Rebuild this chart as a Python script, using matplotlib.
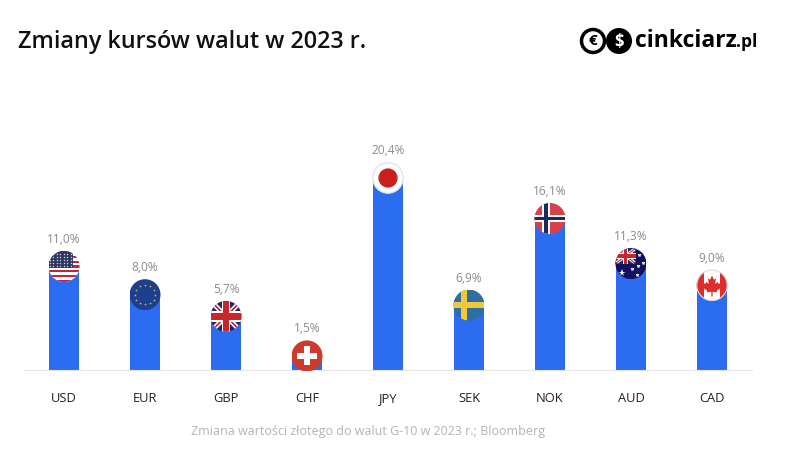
#!/usr/bin/env python3
import matplotlib
matplotlib.use('Agg')
import matplotlib.pyplot as plt
from matplotlib.patches import Circle, Polygon, Rectangle
from matplotlib.transforms import Affine2D, IdentityTransform

currencies = ['USD', 'EUR', 'GBP', 'CHF', 'JPY', 'SEK', 'NOK', 'AUD', 'CAD']
changes = [11.0, 8.0, 5.7, 1.5, 20.4, 6.9, 16.1, 11.3, 9.0]
labels = ['11,0%', '8,0%', '5,7%', '1,5%', '20,4%', '6,9%', '16,1%', '11,3%', '9,0%']

W, H = 800, 457
BLUE = '#2c6cf0'
RED = '#c8252c'
NAVY = '#1f2a63'

plt.rcParams['font.family'] = ['Open Sans', 'DejaVu Sans']

fig = plt.figure(figsize=(W / 100, H / 100), dpi=100)
ax = fig.add_axes([24 / W, 87 / H, 728 / W, 240 / H])
ax.set_xlim(-0.494, 8.494)
ax.set_ylim(0, 25.5)
ax.bar(range(len(changes)), changes, width=0.36, color=BLUE, zorder=2)

for side in ['top', 'left', 'right']:
    ax.spines[side].set_visible(False)
ax.spines['bottom'].set_color('#e4e4e4')
ax.set_yticks([])
ax.set_xticks(range(len(currencies)))
ax.set_xticklabels(currencies, fontsize=9.3, color='#222222')
ax.tick_params(axis='x', length=0, pad=16)

for i, (v, lab) in enumerate(zip(changes, labels)):
    ax.annotate(lab, (i, v), xytext=(0, 27), textcoords='offset pixels',
                ha='center', va='center', fontsize=8.6, color='#8c8c8c', zorder=5)


class Flag:
    # draws in a unit circle centred on the end of a bar
    def __init__(self, i, v, r=15.5):
        cx, cy = ax.transData.transform((i, v))
        self.t = Affine2D().scale(r).translate(cx, cy)
        self.clip = Circle((0, 0), 1, transform=self.t)

    def rect(self, x, y, w, h, color):
        p = Rectangle((x, y), w, h, color=color, lw=0, transform=self.t, zorder=4)
        fig.add_artist(p)
        p.set_clip_path(self.clip)

    def poly(self, pts, color):
        p = Polygon(pts, closed=True, color=color, lw=0, transform=self.t, zorder=4)
        fig.add_artist(p)
        p.set_clip_path(self.clip)

    def stars(self, xs, ys, color, size):
        line = plt.Line2D(xs, ys, ls='', marker='*', ms=size, mfc=color, mew=0,
                          transform=self.t, zorder=4)
        fig.add_artist(line)
        line.set_clip_path(self.clip)

    def ring(self):
        c = Circle((0, 0), 0.98, fc='none', ec='#dddddd', lw=0.8, transform=self.t, zorder=4)
        fig.add_artist(c)

    def union_jack(self, x0, x1, y0, y1):
        cx, cy = (x0 + x1) / 2, (y0 + y1) / 2
        w, h = x1 - x0, y1 - y0
        self.rect(x0, y0, w, h, NAVY)
        d = w * 0.11
        self.poly([(x0, y0 + d), (x0 + d, y0), (x1, y1 - d), (x1 - d, y1)], 'white')
        self.poly([(x0, y1 - d), (x0 + d, y1), (x1, y0 + d), (x1 - d, y0)], 'white')
        d = w * 0.04
        self.poly([(x0, y0 + d), (x0 + d, y0), (x1, y1 - d), (x1 - d, y1)], RED)
        self.poly([(x0, y1 - d), (x0 + d, y1), (x1, y0 + d), (x1 - d, y0)], RED)
        self.rect(cx - w * 0.14, y0, w * 0.28, h, 'white')
        self.rect(x0, cy - h * 0.17, w, h * 0.34, 'white')
        self.rect(cx - w * 0.09, y0, w * 0.18, h, RED)
        self.rect(x0, cy - h * 0.11, w, h * 0.22, RED)


def usa(f):
    f.rect(-1, -1, 2, 2, 'white')
    n = 13
    for k in range(0, n, 2):
        f.rect(-1, -1 + k * 2 / n, 2, 2 / n, '#c0283a')
    f.rect(-1, -0.08, 1.6, 1.08, '#2a3560')
    xs = [-0.9 + 0.22 * a for a in range(7)]
    for row in range(5):
        f.stars(xs, [0.02 + 0.2 * row] * 7, '#d8dbe6', 1.8)


def eur(f):
    f.rect(-1, -1, 2, 2, '#1d3f8f')
    xs = [0.0, 0.32, 0.55, 0.63, 0.55, 0.32, 0.0, -0.32, -0.55, -0.63, -0.55, -0.32]
    ys = [0.63, 0.55, 0.32, 0.0, -0.32, -0.55, -0.63, -0.55, -0.32, 0.0, 0.32, 0.55]
    f.stars(xs, ys, '#d8c24a', 2)


def gbp(f):
    f.union_jack(-1, 1, -1, 1)


def chf(f):
    f.rect(-1, -1, 2, 2, '#cf3a2c')
    f.rect(-0.2, -0.62, 0.4, 1.24, 'white')
    f.rect(-0.62, -0.2, 1.24, 0.4, 'white')


def jpy(f):
    f.rect(-1, -1, 2, 2, 'white')
    f.ring()
    c = Circle((0, 0), 0.62, color='#c9201c', lw=0, transform=f.t, zorder=4)
    fig.add_artist(c)


def sek(f):
    f.rect(-1, -1, 2, 2, '#2f6ea5')
    f.rect(-0.5, -1, 0.36, 2, '#f0c93a')
    f.rect(-1, -0.18, 2, 0.36, '#f0c93a')


def nok(f):
    f.rect(-1, -1, 2, 2, '#d9414a')
    f.rect(-0.5, -1, 0.5, 2, 'white')
    f.rect(-1, -0.25, 2, 0.5, 'white')
    f.rect(-0.37, -1, 0.24, 2, '#1b2a5c')
    f.rect(-1, -0.12, 2, 0.24, '#1b2a5c')


def aud(f):
    f.rect(-1, -1, 2, 2, '#10105f')
    f.union_jack(-1, 0.3, 0, 1)
    f.stars([-0.55], [-0.6], 'white', 5.5)
    f.stars([0.5, 0.8, 0.45, 0.05, 0.4], [0.55, 0.05, -0.15, -0.35, -0.75], 'white', 3)


def cad(f):
    f.rect(-1, -1, 2, 2, 'white')
    f.rect(-1, -1, 0.5, 2, '#dd2d2d')
    f.rect(0.5, -1, 0.5, 2, '#dd2d2d')
    leaf = [(0, 0.62), (0.13, 0.36), (0.26, 0.44), (0.2, 0.08), (0.36, 0.22), (0.42, 0.1),
            (0.6, 0.14), (0.52, -0.08), (0.6, -0.14), (0.3, -0.36), (0.34, -0.46),
            (0.04, -0.42), (0.04, -0.72), (-0.04, -0.72), (-0.04, -0.42), (-0.34, -0.46),
            (-0.3, -0.36), (-0.6, -0.14), (-0.52, -0.08), (-0.6, 0.14), (-0.42, 0.1),
            (-0.36, 0.22), (-0.2, 0.08), (-0.26, 0.44), (-0.13, 0.36)]
    f.poly(leaf, '#dd2d2d')
    f.ring()


flags = [usa, eur, gbp, chf, jpy, sek, nok, aud, cad]
for i, v in enumerate(changes):
    flags[i](Flag(i, v))

# title and footer
fig.text(18 / W, 1 - 42 / H, 'Zmiany kursów walut w 2023 r.', fontsize=16.8, fontweight=600,
         family='Open Sans', color='#111111', ha='left', va='center')
fig.text(368 / W, 1 - 432 / H, 'Zmiana wartości złotego do walut G-10 w 2023 r.; Bloomberg',
         fontsize=9, color='#b4b4b4', ha='center', va='center')

# logo
px = IdentityTransform()
fig.add_artist(Circle((619, H - 41), 13, color='black', lw=0, transform=px))
fig.add_artist(Circle((593, H - 41), 11.5, fc='white', ec='black', lw=2.5, transform=px, zorder=3))
fig.text(593 / W, 1 - 41 / H, '€', fontsize=11, fontweight='bold', color='black',
         ha='center', va='center', zorder=4)
fig.text(619 / W, 1 - 42 / H, '$', fontsize=12, fontweight='bold', color='white',
         ha='center', va='center', zorder=4)
fig.text(635 / W, 1 - 41 / H, 'cinkciarz', fontsize=16.5, fontweight='bold', color='black',
         ha='left', va='center')
fig.text(736 / W, 1 - 42 / H, '.pl', fontsize=12.5, fontweight='bold', color='black',
         ha='left', va='center')

fig.savefig('out.png', dpi=100)
